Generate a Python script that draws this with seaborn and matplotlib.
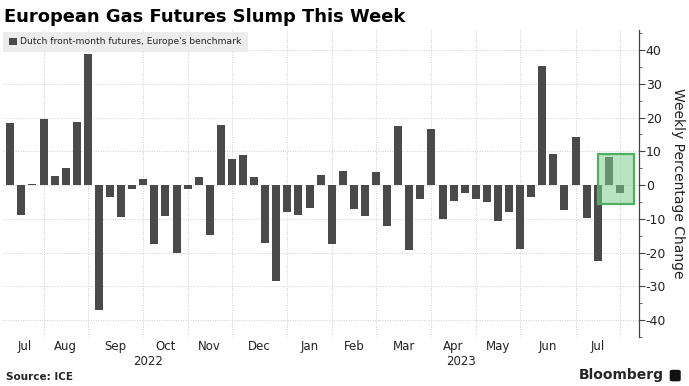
import numpy as np
import pandas as pd
import matplotlib.pyplot as plt
import matplotlib.transforms as mtransforms
from matplotlib.patches import Rectangle, FancyBboxPatch
import seaborn as sns

# weekly closes (Fridays), Jul 2022 .. Jul 2023
weeks = pd.date_range("2022-07-08", "2023-07-28", freq="7D")
change = [18.3, -8.9, 0.3, 19.5, 2.8, 5.0, 18.7, 38.7, -37.0, -3.6,
          -9.5, -1.3, 1.7, -17.5, -9.2, -20.2, -1.3, 2.3, -14.8, 17.9,
          7.6, 8.9, 2.5, -17.2, -28.3, -8.1, -8.9, -6.9, 3.0, -17.4,
          4.2, -7.0, -9.2, 3.9, -12.0, 17.5, -19.1, -4.2, 16.6, -10.0,
          -4.7, -2.4, -4.2, -5.1, -10.5, -8.0, -18.9, -3.5, 35.2, 9.1,
          -7.4, 14.1, -9.8, -22.6, 8.4, -2.3]
yticks = [-40, -30, -20, -10, 0, 10, 20, 30, 40]
highlight_y = (-5.5, 9.3)   # box around this week's move

df = pd.DataFrame({"week": weeks.strftime("%Y-%m-%d"), "change": change})

sns.set_style("white")
plt.rcParams["font.family"] = ["DejaVu Sans"]

fig = plt.figure(figsize=(6.89, 3.86), dpi=100)
ax = fig.add_axes([0.004, 0.127, 0.923, 0.795])

sns.barplot(data=df, x="week", y="change", order=list(df["week"]),
            color="#4a4a4a", saturation=1, width=0.72, linewidth=0, ax=ax)

n = len(df)
ax.set_xlim(-0.68, n - 1 + 1.7)
ax.set_ylim(-44.0, 45.9)

# month boundaries = last bar of each month
month = weeks.to_period("M")
bounds = [i for i in range(n) if i == n - 1 or month[i] != month[i + 1]]
ax.set_xticks(bounds)
ax.set_xticklabels([])
ax.tick_params(axis="x", length=0)

edges = [-0.4] + bounds
trans = mtransforms.blended_transform_factory(ax.transData, fig.transFigure)
for a, b in zip(edges[:-1], edges[1:]):
    lab = weeks[b].strftime("%b")
    ax.text((a + b) / 2, 0.103, lab, transform=trans, ha="center",
            va="center", fontsize=8.5, color="#222222")
# years centered in their span
jan = [i for i in range(n) if weeks[i].year == 2023][0]
ax.text((ax.get_xlim()[0] + jan - 1) / 2 + 0.3, 0.063, "2022", transform=trans,
        ha="center", va="center", fontsize=8.5, color="#222222")
ax.text((jan - 1 + ax.get_xlim()[1]) / 2 - 0.2, 0.063, "2023", transform=trans,
        ha="center", va="center", fontsize=8.5, color="#222222")

# y axis on the right
ax.yaxis.tick_right()
ax.set_yticks(yticks)
ax.set_yticklabels([str(v) for v in yticks])
ax.set_yticks(np.arange(-45, 46, 5), minor=True)
ax.tick_params(axis="y", which="major", length=4, width=0.8, color="#444444",
               labelsize=9, pad=1, labelcolor="#222222")
ax.tick_params(axis="y", which="minor", length=2, width=0.6, color="#444444")
ax.yaxis.set_label_position("right")
ax.set_ylabel("Weekly Percentage Change", rotation=270, labelpad=14,
              fontsize=10, color="#222222")
ax.set_xlabel("")

for s in ["top", "left", "bottom"]:
    ax.spines[s].set_visible(False)
ax.spines["right"].set_color("#444444")
ax.spines["right"].set_linewidth(0.9)

ax.grid(True, which="major", axis="both", color="#cfcfcf", linestyle=(0, (1, 1.5)),
        linewidth=0.7)
ax.set_axisbelow(True)

# highlight box around latest weeks
box_w = 3.25
ax.add_patch(Rectangle((n - 3, highlight_y[0]), box_w, highlight_y[1] - highlight_y[0],
                       facecolor="#7fcf90", alpha=0.55, edgecolor="none", zorder=3))
ax.add_patch(Rectangle((n - 3, highlight_y[0]), box_w, highlight_y[1] - highlight_y[0],
                       facecolor="none", edgecolor="#4fae62", linewidth=1.6, zorder=4))

# legend box
fig.patches.append(FancyBboxPatch((0.005, 0.866), 0.355, 0.052, boxstyle="square,pad=0",
                                  transform=fig.transFigure, facecolor="#ececec",
                                  edgecolor="none", zorder=1))
fig.patches.append(Rectangle((0.013, 0.883), 0.011, 0.019, transform=fig.transFigure,
                             facecolor="#4a4a4a", edgecolor="none", zorder=2))
fig.text(0.029, 0.892, "Dutch front-month futures, Europe's benchmark", fontsize=6.6,
         va="center", color="#222222", zorder=3)

fig.text(0.006, 0.955, "European Gas Futures Slump This Week", fontsize=12.9,
         fontweight="bold", va="center", color="black")
fig.text(0.008, 0.024, "Source: ICE", fontsize=7.5, fontweight="bold", va="center")
fig.text(0.963, 0.028, "Bloomberg", fontsize=10, fontweight="bold", va="center", ha="right")
fig.patches.append(FancyBboxPatch((0.972, 0.012), 0.016, 0.03,
                                  boxstyle="round,pad=0,rounding_size=0.004",
                                  transform=fig.transFigure, facecolor="#111111",
                                  edgecolor="none"))

fig.savefig("out.png", dpi=100)
